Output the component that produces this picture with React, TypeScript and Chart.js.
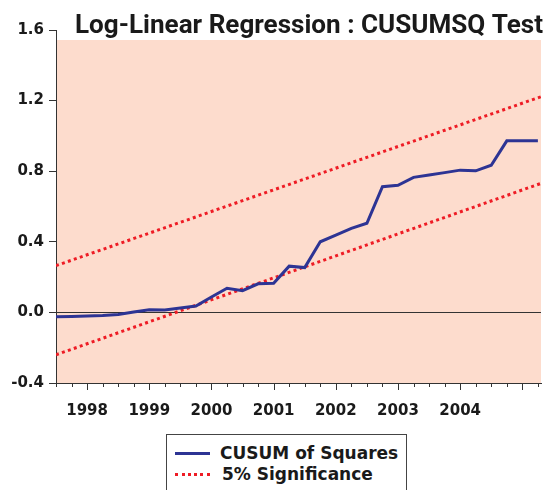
import React, { useEffect, useRef } from "react";
import { Chart, registerables } from "chart.js";

Chart.register(...registerables);

// Quarterly observations 1997Q3 .. 2005Q2
const quarters = [
  "1997Q3", "1997Q4",
  "1998Q1", "1998Q2", "1998Q3", "1998Q4",
  "1999Q1", "1999Q2", "1999Q3", "1999Q4",
  "2000Q1", "2000Q2", "2000Q3", "2000Q4",
  "2001Q1", "2001Q2", "2001Q3", "2001Q4",
  "2002Q1", "2002Q2", "2002Q3", "2002Q4",
  "2003Q1", "2003Q2", "2003Q3", "2003Q4",
  "2004Q1", "2004Q2", "2004Q3", "2004Q4",
  "2005Q1", "2005Q2",
];

const cusumSquares = [
  -0.024, -0.023, -0.021, -0.018, -0.012, 0.002, 0.015, 0.013,
  0.025, 0.036, 0.087, 0.137, 0.123, 0.162, 0.165, 0.262,
  0.254, 0.4, 0.438, 0.476, 0.505, 0.712, 0.72, 0.765,
  0.778, 0.792, 0.806, 0.802, 0.834, 0.972, 0.972, 0.973,
];

// 5% significance bounds (straight lines, start and end)
const boundX = [0, 31.2];
const upperBound = [0.265, 1.222];
const lowerBound = [-0.24, 0.731];

const yearLabels = ["1998", "1999", "2000", "2001", "2002", "2003", "2004"];
const yTicks = [-0.4, 0.0, 0.4, 0.8, 1.2, 1.6];

const TITLE = "Log-Linear Regression : CUSUMSQ Test";
const LEGEND_CUSUM = "CUSUM of Squares";
const LEGEND_SIG = "5% Significance";

const BLUE = "#2d3494";
const RED = "#ee1c25";
const PINK = "#fddccd";
const AXIS = "#333333";
const TICK_FONT = { family: "DejaVu Sans", size: 15, weight: "bold" as const };

export default function App() {
  const canvasRef = useRef<HTMLCanvasElement | null>(null);

  useEffect(() => {
    document.documentElement.style.overflow = "hidden";
    document.body.style.overflow = "hidden";
    const canvas = canvasRef.current;
    if (!canvas) return;

    const bgPlugin = {
      id: "pinkBg",
      beforeDraw(chart: any) {
        const { ctx, chartArea } = chart;
        ctx.save();
        ctx.fillStyle = PINK;
        ctx.fillRect(
          chartArea.left,
          chartArea.top + 10,
          chartArea.right - chartArea.left,
          chartArea.bottom - chartArea.top - 10
        );
        ctx.restore();
      },
    };

    const decoPlugin = {
      id: "deco",
      afterDraw(chart: any) {
        const { ctx, chartArea } = chart;
        const xs = chart.scales.x;
        ctx.save();
        // quarter tick marks (longer at the first quarter of each year)
        ctx.strokeStyle = AXIS;
        ctx.lineWidth = 1;
        quarters.forEach((q, i) => {
          const px = Math.round(xs.getPixelForValue(i)) + 0.5;
          const len = q.endsWith("Q1") ? 7 : 4;
          ctx.beginPath();
          ctx.moveTo(px, chartArea.bottom);
          ctx.lineTo(px, chartArea.bottom + len);
          ctx.stroke();
        });
        // title
        ctx.font = "bold 26.4px Roboto";
        ctx.fillStyle = "#1a1a1a";
        ctx.textBaseline = "alphabetic";
        const w = ctx.measureText(TITLE).width;
        const target = 468;
        const sx = target / w;
        const right = chartArea.right + 2;
        ctx.translate(right - w * sx, 25);
        ctx.scale(sx, 1);
        ctx.fillText(TITLE, 0, 0);
        ctx.restore();
      },
    };

    const chart = new Chart(canvas, {
      type: "line",
      data: {
        datasets: [
          {
            label: LEGEND_CUSUM,
            data: cusumSquares.map((v, i) => ({ x: i, y: v })),
            borderColor: BLUE,
            borderWidth: 3,
            pointRadius: 0,
            tension: 0,
            order: 0,
          },
          {
            label: LEGEND_SIG,
            data: boundX.map((x, i) => ({ x, y: upperBound[i] })),
            borderColor: RED,
            borderWidth: 3,
            borderDash: [3, 3.3],
            pointRadius: 0,
            order: 1,
          },
          {
            label: LEGEND_SIG + " (lower)",
            data: boundX.map((x, i) => ({ x, y: lowerBound[i] })),
            borderColor: RED,
            borderWidth: 3,
            borderDash: [3, 3.3],
            pointRadius: 0,
            order: 1,
          },
        ],
      },
      options: {
        responsive: false,
        animation: false,
        devicePixelRatio: 1,
        layout: { padding: { top: 22, right: 4, left: 0, bottom: 0 } },
        plugins: {
          legend: { display: false },
          tooltip: { enabled: false },
          title: { display: false },
        },
        scales: {
          x: {
            type: "linear",
            min: 0,
            max: 31.2,
            afterBuildTicks(scale: any) {
              scale.ticks = quarters.map((_, i) => ({ value: i }));
            },
            afterFit(scale: any) {
              scale.height = 45;
              scale.paddingLeft = 0;
              scale.paddingRight = 0;
            },
            ticks: {
              autoSkip: false,
              maxRotation: 0,
              padding: 19,
              color: "#1a1a1a",
              font: TICK_FONT,
              callback: (v: any) => {
                const q = quarters[Math.round(Number(v))];
                if (!q || !q.endsWith("Q1")) return "";
                const y = q.slice(0, 4);
                return yearLabels.includes(y) ? y : "";
              },
            },
            grid: { display: true, drawOnChartArea: false, drawTicks: false },
            border: { display: true, color: AXIS, width: 1 },
          },
          y: {
            type: "linear",
            min: -0.4,
            max: 1.6,
            afterBuildTicks(scale: any) {
              scale.ticks = yTicks.map((v) => ({ value: v }));
            },
            afterFit(scale: any) {
              scale.width = 48;
            },
            ticks: {
              padding: 5,
              color: "#1a1a1a",
              font: TICK_FONT,
              callback: (v: any) => Number(v).toFixed(1),
            },
            grid: {
              drawOnChartArea: true,
              drawTicks: true,
              tickLength: 7,
              lineWidth: 1,
              color: (c: any) => (c.tick && c.tick.value === 0 ? AXIS : "rgba(0,0,0,0)"),
              tickColor: AXIS,
            },
            border: { display: true, color: AXIS, width: 1 },
          },
        },
      },
      plugins: [bgPlugin, decoPlugin],
    });

    return () => chart.destroy();
  }, []);

  const legendText: React.CSSProperties = {
    position: "absolute",
    fontFamily: "'DejaVu Sans', sans-serif",
    fontWeight: 700,
    fontSize: "17px",
    lineHeight: "20px",
    color: "#1a1a1a",
    whiteSpace: "nowrap",
  };

  return (
    <div style={{ position: "relative", width: 537, height: 482, overflow: "hidden" }}>
      <canvas ref={canvasRef} width={537} height={420} style={{ display: "block" }} />
      <div
        style={{
          position: "absolute",
          left: 158,
          top: 426,
          width: 241,
          height: 90,
          boxSizing: "border-box",
          border: "1px solid #444",
          background: "#ffffff",
        }}
      >
        <div
          style={{
            position: "absolute",
            left: 8,
            top: 17,
            width: 35,
            height: 0,
            borderTop: `3px solid ${BLUE}`,
          }}
        />
        <div style={{ ...legendText, left: 53, top: 8 }}>{LEGEND_CUSUM}</div>
        <div
          style={{
            position: "absolute",
            left: 8,
            top: 38,
            width: 35,
            height: 0,
            borderTop: `3px dotted ${RED}`,
          }}
        />
        <div style={{ ...legendText, left: 55, top: 29 }}>{LEGEND_SIG}</div>
      </div>
    </div>
  );
}
